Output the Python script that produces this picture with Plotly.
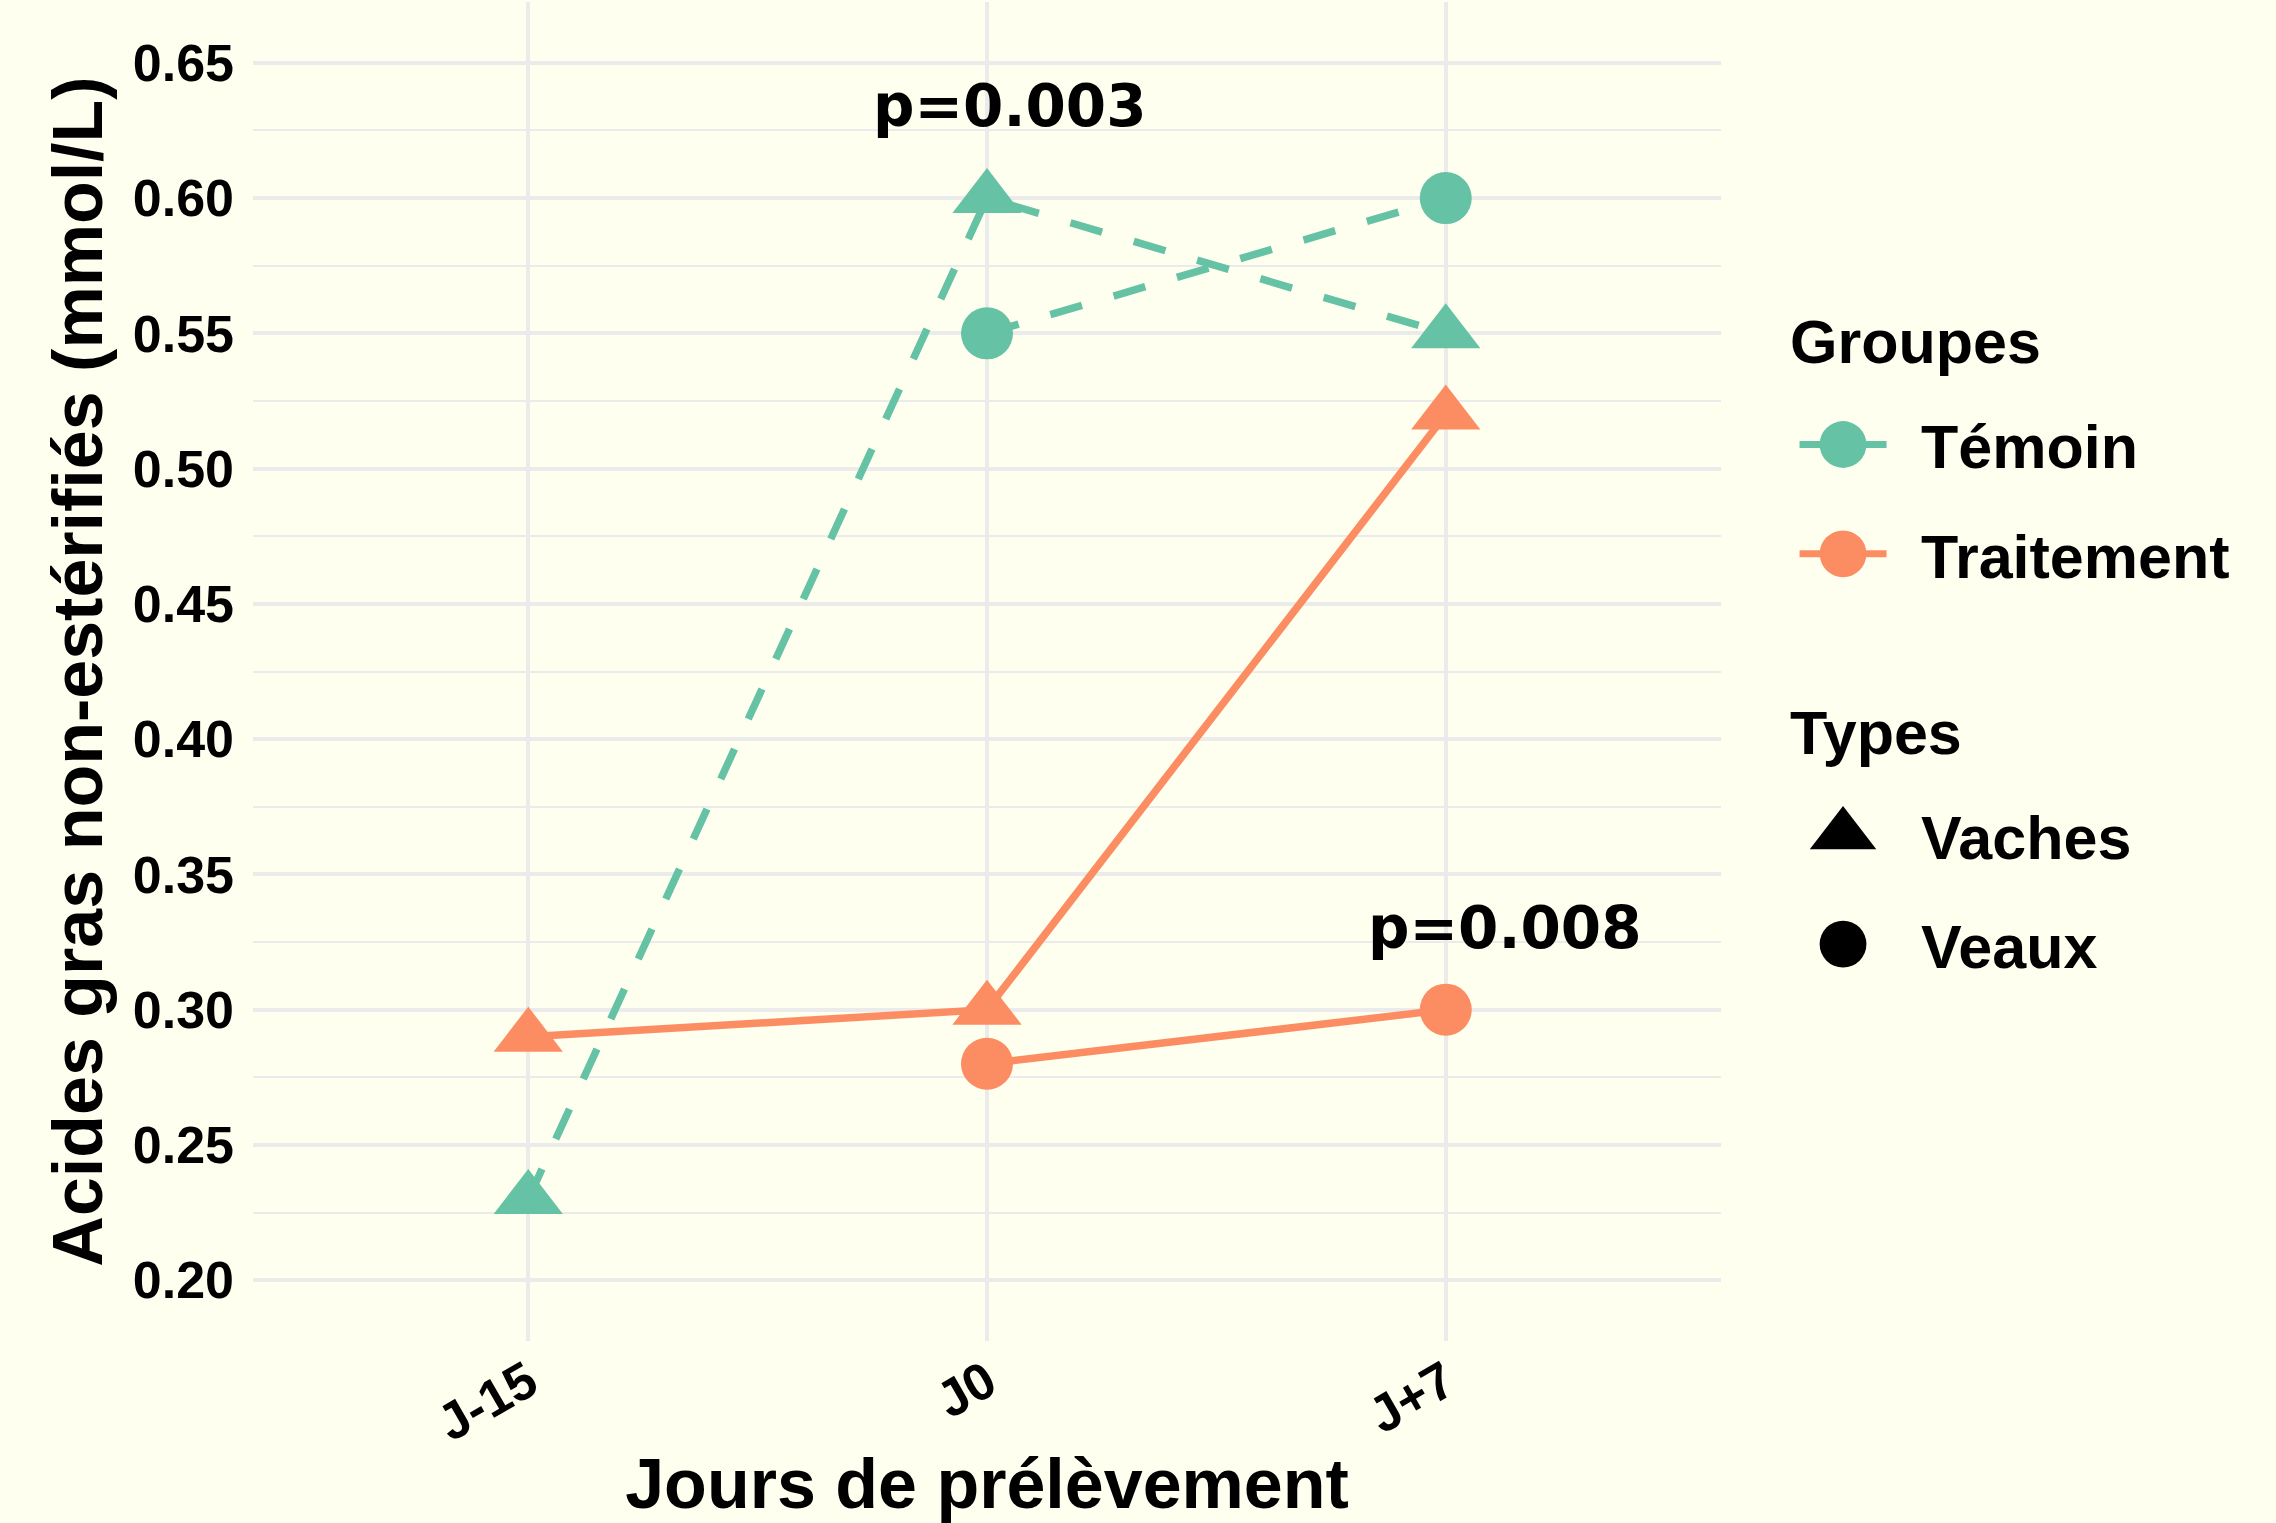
import plotly.graph_objects as go

# ---- data ----
jours = ["J-15", "J0", "J+7"]
jours_veaux = ["J0", "J+7"]
temoin_vaches = [0.23, 0.60, 0.55]
temoin_veaux = [0.55, 0.60]
traitement_vaches = [0.29, 0.30, 0.52]
traitement_veaux = [0.28, 0.30]
y_ticks = [0.20, 0.25, 0.30, 0.35, 0.40, 0.45, 0.50, 0.55, 0.60, 0.65]
p_labels = ["p=0.003", "p=0.008"]
p_x = [1.05, 2.13]
p_y = [0.634, 0.330]

TEAL = "#66C2A5"
SALMON = "#FC8D62"
BG = "#FFFFF0"
GRID = "#EBEBEB"
FONT = "Liberation Sans, Arial, sans-serif"
DASH = "33px,33px"

fig = go.Figure()

def add_series(x, y, color, dash, symbol, size):
    fig.add_trace(go.Scatter(
        x=x, y=y, mode="lines+markers",
        line=dict(color=color, width=7.5, dash=dash),
        marker=dict(color=color, symbol=symbol, size=size, line=dict(width=0)),
        showlegend=False, hoverinfo="skip"))

add_series(jours, temoin_vaches, TEAL, DASH, "triangle-up", 60)
add_series(jours_veaux, temoin_veaux, TEAL, DASH, "circle", 52)
add_series(jours, traitement_vaches, SALMON, "solid", "triangle-up", 60)
add_series(jours_veaux, traitement_veaux, SALMON, "solid", "circle", 52)

# legend-only entries
fig.add_trace(go.Scatter(x=[None], y=[None], mode="lines+markers", name="Témoin",
                         line=dict(color=TEAL, width=5), marker=dict(color=TEAL, size=13, symbol="circle"),
                         legend="legend", legendgroup="a"))
fig.add_trace(go.Scatter(x=[None], y=[None], mode="lines+markers", name="Traitement",
                         line=dict(color=SALMON, width=5), marker=dict(color=SALMON, size=13, symbol="circle"),
                         legend="legend", legendgroup="b"))
fig.add_trace(go.Scatter(x=[None], y=[None], mode="markers", name="Vaches",
                         marker=dict(color="black", size=16, symbol="triangle-up"),
                         legend="legend2", legendgroup="c"))
fig.add_trace(go.Scatter(x=[None], y=[None], mode="markers", name="Veaux",
                         marker=dict(color="black", size=13, symbol="circle"),
                         legend="legend2", legendgroup="d"))

for txt, x, y in zip(p_labels, p_x, p_y):
    fig.add_annotation(x=x, y=y, xref="x", yref="y", text=txt, showarrow=False,
                       font=dict(family="DejaVu Sans, sans-serif", size=58, color="black", weight="bold"),
                       xanchor="center", yanchor="middle")

# legend titles
for txt, y in [("Groupes", 0.746), ("Types", 0.454)]:
    fig.add_annotation(x=1.0457, y=y, xref="paper", yref="paper", text=txt, showarrow=False,
                       font=dict(family=FONT, size=61, color="black", weight="bold"),
                       xanchor="left", yanchor="middle")

legend_common = dict(
    font=dict(family=FONT, size=61, color="black", weight="bold"),
    bgcolor="rgba(0,0,0,0)",
    traceorder="grouped",
    tracegroupgap=27,
    itemwidth=146,
    xanchor="left", yanchor="top",
)

fig.update_layout(
    width=2276, height=1523,
    margin=dict(l=253, r=555, t=2, b=182, autoexpand=False),
    paper_bgcolor=BG, plot_bgcolor=BG,
    font=dict(family=FONT, color="black"),
    legend=dict(**legend_common, x=1.03, y=0.704),
    legend2=dict(**legend_common, x=1.03, y=0.4125),
    xaxis=dict(
        type="category", categoryorder="array", categoryarray=jours,
        range=[-0.6, 2.6], showgrid=True, gridcolor=GRID, gridwidth=3.5,
        zeroline=False, showline=False, ticks="", tickangle=-30,
        tickfont=dict(family=FONT, size=52, color="black", weight="bold"),
        title=dict(text="Jours de prélèvement", standoff=17,
                   font=dict(family=FONT, size=70, color="black", weight="bold")),
        automargin=False,
    ),
    yaxis=dict(
        range=[0.1775, 0.6725], tickmode="array", tickvals=y_ticks,
        tickformat=".2f", showgrid=True, gridcolor=GRID, gridwidth=3.5,
        minor=dict(dtick=0.025, tick0=0.2, showgrid=True, gridcolor=GRID, gridwidth=2.2),
        zeroline=False, showline=False, ticks="", ticklabelstandoff=18,
        tickfont=dict(family=FONT, size=52, color="black", weight="bold"),
        title=dict(text="Acides gras non-estérifiés (mmol/L)", standoff=7,
                   font=dict(family=FONT, size=70, color="black", weight="bold")),
        automargin=False,
    ),
)

post_script = """
document.body.style.margin = '0';
var gd = document.getElementById('{plot_id}');
function fixLegend() {
  gd.querySelectorAll('g.legendpoints path.scatterpts').forEach(function (p) {
    var t = p.getAttribute('transform') || '';
    if (t.indexOf('scale') < 0) p.setAttribute('transform', t + ' scale(3.6)');
  });
  gd.querySelectorAll('g.legendlines path').forEach(function (l) {
    if (l.getAttribute('data-fixed')) return;
    var b = l.getBBox();
    var cx = b.x + b.width / 2;
    l.setAttribute('d', 'M' + (cx - 43.5) + ',0h87');
    l.style.strokeWidth = '7px';
    l.setAttribute('data-fixed', '1');
  });
}
fixLegend();
gd.on('plotly_afterplot', fixLegend);
"""

fig.write_html("out.html", post_script=post_script, config={"displayModeBar": False})
